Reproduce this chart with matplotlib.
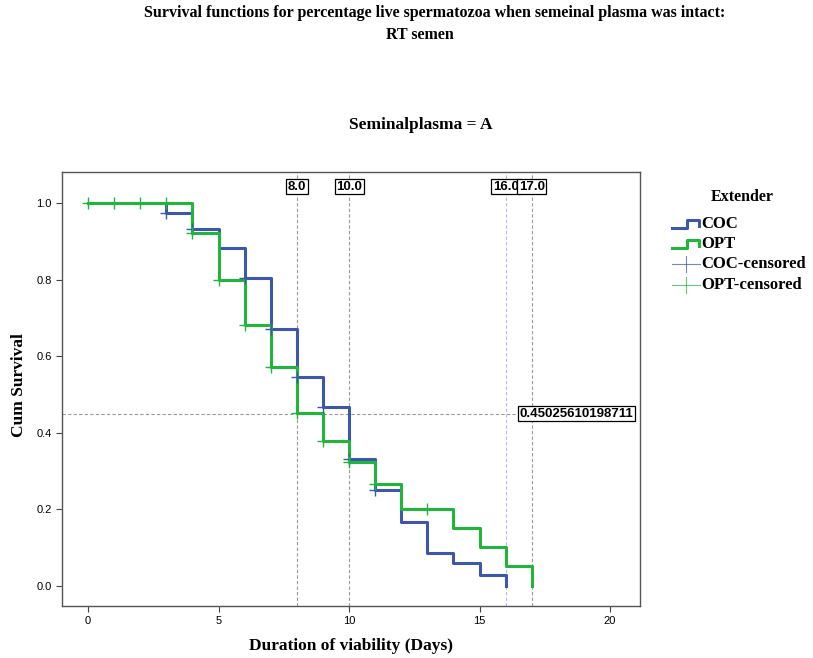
import matplotlib.pyplot as plt
from matplotlib.lines import Line2D

# Kaplan-Meier step values (survival at start of each day)
coc_days = [0, 3, 4, 5, 6, 7, 8, 9, 10, 11, 12, 13, 14, 15, 16]
coc_surv = [1.0, 0.975, 0.932, 0.882, 0.804, 0.671, 0.546, 0.467, 0.332, 0.25, 0.167, 0.086, 0.06, 0.029, 0.0]
opt_days = [0, 4, 5, 6, 7, 8, 9, 10, 11, 12, 14, 15, 16, 17]
opt_surv = [1.0, 0.922, 0.80, 0.681, 0.572, 0.452, 0.378, 0.324, 0.266, 0.20, 0.151, 0.101, 0.052, 0.0]

# censored observations
coc_cens_days = [3, 4, 6, 7, 8, 9, 10, 11]
coc_cens_surv = [0.975, 0.932, 0.804, 0.671, 0.546, 0.467, 0.332, 0.25]
opt_cens_days = [0, 1, 2, 3, 4, 5, 6, 7, 8, 9, 10, 11, 13]
opt_cens_surv = [1.0, 1.0, 1.0, 1.0, 0.922, 0.80, 0.681, 0.572, 0.452, 0.378, 0.324, 0.266, 0.20]

ref_days = [8.0, 10.0, 16.0, 17.0]
ref_colors = ['#999999', '#999999', '#b8b8ee', '#999999']
ref_surv = 0.45025610198711

blue = '#3d57ab'
green = '#22b53c'
serif = 'Liberation Serif'
sans = 'Liberation Sans'

fig = plt.figure(figsize=(8.13, 6.58), dpi=100)
ax = fig.add_axes([62 / 813, 52 / 658, 578 / 813, 434 / 658])

# reference lines
box = dict(boxstyle='square,pad=0.12', fc='white', ec='black', lw=0.9)
for d, c in zip(ref_days, ref_colors):
    ax.axvline(d, color=c, lw=0.8, ls=(0, (3, 2)), zorder=1)
    ax.text(d, 1.043, f'{d:.1f}', ha='center', va='center', fontsize=9.5, fontweight='bold',
            family=sans, bbox=box, zorder=5)
ax.plot([-1, 16.45], [ref_surv, ref_surv], color='#999999', lw=0.8, ls=(0, (3, 2)), zorder=1)
ax.text(16.52, ref_surv, f'{ref_surv:.14f}', ha='left', va='center', fontsize=9.5, fontweight='bold',
        family=sans, bbox=box, zorder=5)

# survival curves
ax.step(coc_days + [16], coc_surv + [0.0], where='post', color=blue, lw=2.2, zorder=3)
ax.step(opt_days + [17], opt_surv + [0.0], where='post', color=green, lw=2.2, zorder=4)
ax.plot(coc_cens_days, coc_cens_surv, '+', color=blue, ms=8, mew=1.0, zorder=4)
ax.plot(opt_cens_days, opt_cens_surv, '+', color=green, ms=8, mew=1.0, zorder=5)

ax.set_xlim(-1, 21.15)
ax.set_ylim(-0.052, 1.081)
ax.set_xticks([0, 5, 10, 15, 20])
ax.set_yticks([0.0, 0.2, 0.4, 0.6, 0.8, 1.0])
ax.set_yticklabels(['0.0', '0.2', '0.4', '0.6', '0.8', '1.0'])
for lab in ax.get_xticklabels() + ax.get_yticklabels():
    lab.set_family(sans)
    lab.set_fontsize(8)
ax.tick_params(length=4, width=0.8, color='#444444')
for sp in ax.spines.values():
    sp.set_color('#555555')
    sp.set_linewidth(1.0)

ax.set_xlabel('Duration of viability (Days)', family=serif, fontweight='bold', fontsize=12.5, labelpad=8)
ax.set_ylabel('Cum Survival', family=serif, fontweight='bold', fontsize=12.5)
ax.yaxis.set_label_coords(-35 / 578, 0.51)

# titles
fig.text(0.535, 1 - 13 / 658, 'Survival functions for percentage live spermatozoa when semeinal plasma was intact:',
         ha='center', va='center', family=serif, fontweight='bold', fontsize=11.5)
fig.text(0.517, 1 - 35 / 658, 'RT semen',
         ha='center', va='center', family=serif, fontweight='bold', fontsize=11.5)
fig.text(0.518, 1 - 125 / 658, 'Seminalplasma = A', ha='center', va='center', family=serif,
         fontweight='bold', fontsize=12.5)

# legend drawn by hand
fig.text(742 / 813, 1 - 197 / 658, 'Extender', ha='center', va='center', family=serif, fontweight='bold',
         fontsize=11.5)
entries = [('COC', blue, 'step'), ('OPT', green, 'step'),
           ('COC-censored', blue, 'cens'), ('OPT-censored', green, 'cens')]
rows = [224, 244, 264, 285]
for (name, col, kind), yy in zip(entries, rows):
    if kind == 'step':
        xs = [672, 687, 687, 699, 699]
        ys = [yy + 4, yy + 4, yy - 4, yy - 4, yy + 2]
        fig.add_artist(Line2D([x / 813 for x in xs], [1 - y / 658 for y in ys], color=col, lw=2.2))
    else:
        fig.add_artist(Line2D([672 / 813, 700 / 813], [1 - yy / 658] * 2, color=col, lw=0.8, alpha=0.7))
        fig.add_artist(Line2D([686 / 813] * 2, [1 - (yy - 8) / 658, 1 - (yy + 8) / 658], color=col, lw=0.8,
                              alpha=0.7))
    fig.text(701 / 813, 1 - yy / 658, name, ha='left', va='center', family=serif, fontweight='bold',
             fontsize=12)

fig.savefig('out.png', dpi=100)
